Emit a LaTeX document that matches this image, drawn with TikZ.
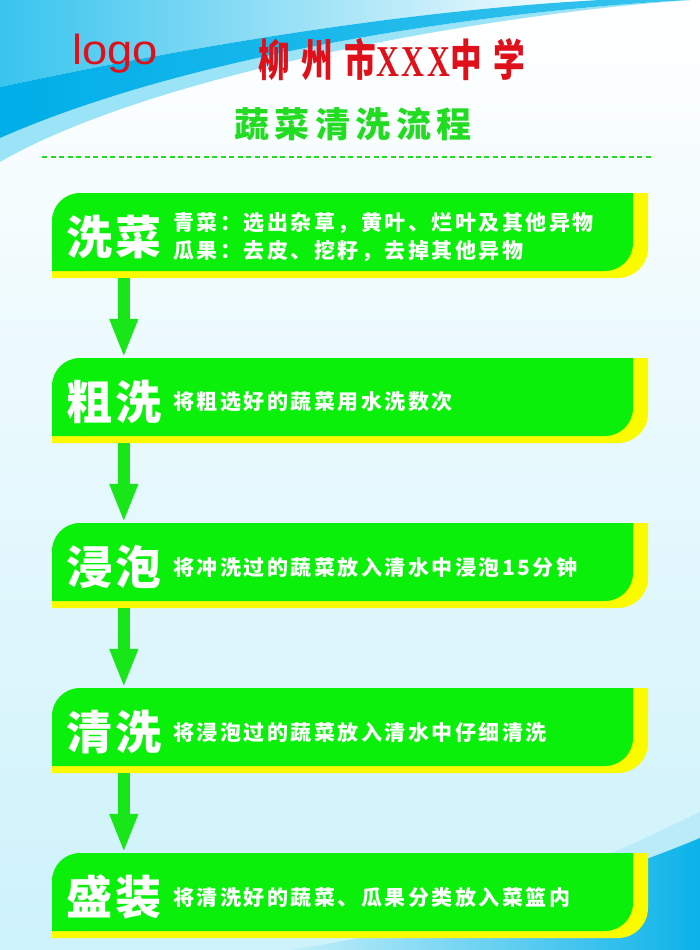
\documentclass[tikz,border=0pt]{standalone}
\usepackage{fontspec}
\setmainfont{Noto Sans CJK SC}
\newfontfamily\bigfont{Noto Sans CJK SC}[LetterSpace=8]
\newfontfamily\descfont{Noto Sans CJK SC}[LetterSpace=12]
\newfontfamily\headfont{Noto Sans CJK SC}[LetterSpace=16]
\newfontfamily\schoolfont{Noto Sans CJK SC}[FakeStretch=0.72]
\newfontfamily\schoolx{Liberation Serif}[FakeStretch=0.72]
\newfontfamily\logofont{Liberation Sans}[FakeStretch=1.08]
\usetikzlibrary{arrows.meta,positioning}
\definecolor{boxgreen}{HTML}{0AF00A}
\definecolor{arrowgreen}{HTML}{19E619}
\definecolor{boxyellow}{HTML}{FAFA00}
\definecolor{titlered}{HTML}{E0101A}
\definecolor{titlegreen}{HTML}{22DC22}
\definecolor{bandblue}{HTML}{00AEE8}
\definecolor{bandlight}{HTML}{9BE3F6}
\definecolor{skycyan}{HTML}{38C4EE}
\definecolor{bgcyan}{HTML}{CDF2FB}

\begin{document}
\begin{tikzpicture}[x=1pt,y=-1pt,
  boxframe/.style={minimum width=581pt,minimum height=78pt,inner sep=0pt},
  steplabel/.style={inner sep=0pt,text=white,font=\bigfont\bfseries\fontsize{46pt}{46pt}\selectfont},
  stepdesc/.style={inner sep=0pt,text=white,align=left,font=\descfont\bfseries\fontsize{21pt}{28pt}\selectfont},
  flowarrow/.style={draw=arrowgreen,line width=12pt,-{Triangle[width=26pt,length=39pt]}},
  dashline/.style={titlegreen,line width=1.6pt,dash pattern=on 5pt off 3.5pt}]
\useasboundingbox (0,0) rectangle (700,950);
\shade[top color=white,middle color=white,bottom color=bgcyan] (0,0) rectangle (700,950);
\shade[left color=skycyan,right color=white] (0,0) -- (0,87) .. controls (150,55) and (380,12) .. (600,0) -- cycle;
\fill[bandlight] (0,138) .. controls (200,50) and (500,10) .. (690,0) .. controls (480,15) and (150,75) .. (0,162) -- cycle;
\shade[left color=bandblue,right color=skycyan] (0,87) .. controls (150,55) and (380,12) .. (600,0) -- (690,0) .. controls (500,10) and (200,50) .. (0,138) -- cycle;
\fill[bandlight!70!white] (360,950) .. controls (480,915) and (600,860) .. (700,812) -- (700,950) -- cycle;
\shade[left color=bandlight!60!white,right color=bandblue!80!skycyan] (290,950) .. controls (450,925) and (600,880) .. (700,838) -- (700,950) -- cycle;

\node[inner sep=0pt,text=titlered,font=\logofont\fontsize{42pt}{42pt}\selectfont] (logo) at (115,54) {logo};
\node[inner sep=0pt,text=titlered,font=\bfseries\fontsize{44pt}{44pt}\selectfont] (school) at (392,60)
  {\schoolfont 柳\hspace{11pt}州\hspace{11pt}市\schoolx X\hspace{3pt}X\hspace{3pt}X\schoolfont 中\hspace{11pt}学};
\node[inner sep=0pt,text=titlegreen,font=\headfont\bfseries\fontsize{35pt}{35pt}\selectfont] (head) at (353,124) {蔬菜清洗流程};
\draw[dashline] (42,157) -- (654,157);

\foreach \st/\ty/\ttl/\txt in %
{1/193/洗菜/{青菜：选出杂草，黄叶、烂叶及其他异物\\瓜果：去皮、挖籽，去掉其他异物},
 2/358/粗洗/将粗选好的蔬菜用水洗数次,
 3/523/浸泡/将冲洗过的蔬菜放入清水中浸泡15分钟,
 4/688/清洗/将浸泡过的蔬菜放入清水中仔细清洗,
 5/853/盛装/将清洗好的蔬菜、瓜果分类放入菜篮内} {
   \begin{scope}[shift={(0,\ty)}]
   \fill[boxyellow,rounded corners=30pt] (52,0) rectangle (648,85);
   \fill[boxyellow] (618,0) rectangle (648,30) (52,55) rectangle (82,85);
   \fill[boxgreen,rounded corners=28pt] (52,0) rectangle (633,78);
   \fill[boxgreen] (603,0) rectangle (633,28) (52,50) rectangle (82,78);
   \node[boxframe] (b\st) at (342.5,39) {};
   \end{scope}
   \node[steplabel,anchor=west] (t\st) at ([xshift=14pt,yshift=-5pt]b\st.west) {\ttl};
   \node[stepdesc,right=11pt of t\st] (d\st) {\txt};
}
\foreach \a/\b in {1/2,2/3,3/4,4/5} {
   \draw[flowarrow] ([xshift=72pt,yshift=-7pt]b\a.south west) -- ([xshift=72pt]b\b.north west);
}
\end{tikzpicture}
\end{document}
